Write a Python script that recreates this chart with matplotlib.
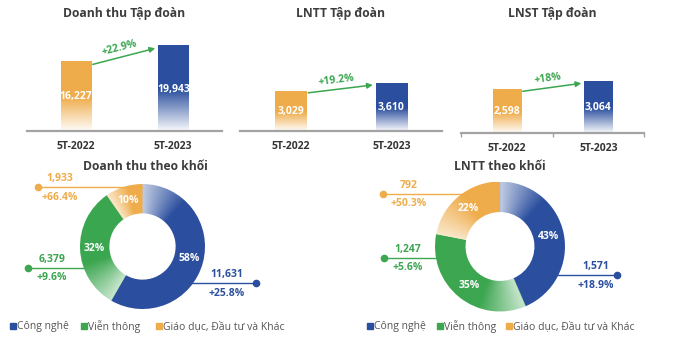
import numpy as np
import matplotlib
matplotlib.use("Agg")
import matplotlib.pyplot as plt
from matplotlib.colors import to_rgb

plt.rcParams['font.family'] = ['Open Sans', 'DejaVu Sans']

# group totals (ty dong)
periods = ["5T-2022", "5T-2023"]
rev_group = [16227, 19943]
pbt_group = [3029, 3610]
pat_group = [2598, 3064]
group_growth = ["+22.9%", "+19.2%", "+18%"]

# by business segment, 5T-2023
segments = ["Công nghệ", "Viễn thông", "Giáo dục, Đầu tư và Khác"]
rev_seg = [11631, 6379, 1933]
rev_seg_pct = ["58%", "32%", "10%"]
rev_seg_growth = ["+25.8%", "+9.6%", "+66.4%"]
pbt_seg = [1571, 1247, 792]
pbt_seg_pct = ["43%", "35%", "22%"]
pbt_seg_growth = ["+18.9%", "+5.6%", "+50.3%"]

BLUE = "#2b4f9e"
GREEN = "#3ca650"
ORANGE = "#efac4a"
TITLE = "#3d3d3d"
seg_colors = [BLUE, GREEN, ORANGE]

W, H = 697, 340
fig = plt.figure(figsize=(W / 100, H / 100), dpi=100)
fig.patch.set_facecolor("white")


def px_axes(x0, y0, x1, y1):
    return fig.add_axes([x0 / W, 1 - y1 / H, (x1 - x0) / W, (y1 - y0) / H])


def bar_gradient(color):
    t = np.linspace(0, 1, 200)[:, None]
    m = np.clip(0.03 + t / 0.5, 0, 1)
    c = np.array(to_rgb(color))
    img = (1 - m[..., None]) * 1.0 + m[..., None] * c
    return img


def bar_panel(box, values, growth, ymax, ticks=False):
    ax = px_axes(*box)
    w = 0.31
    bars = ax.bar([0, 1], values, width=w, color="none", edgecolor="none")
    for b, c in zip(bars, [ORANGE, BLUE]):
        x0, bw, bh = b.get_x(), b.get_width(), b.get_height()
        ax.imshow(bar_gradient(c), extent=(x0, x0 + bw, 0, bh), origin="lower",
                  aspect="auto", zorder=2)
        ax.text(x0 + bw / 2, bh * 0.49, f"{bh:,.0f}", color="white", fontsize=7.5,
                fontweight="bold", ha="center", va="center", zorder=3)
    ax.set_xlim(-0.5, 1.5)
    ax.set_ylim(0, ymax)
    for s in ["top", "left", "right"]:
        ax.spines[s].set_visible(False)
    ax.spines["bottom"].set_color("#a3a3a3")
    ax.spines["bottom"].set_linewidth(1.6)
    ax.set_yticks([])
    ax.set_xticks([0, 1])
    ax.set_xticklabels(periods, fontsize=7.5, fontweight="bold", color="#333333")
    ax.tick_params(axis="x", length=0, pad=7)
    if ticks:
        ax.set_xticks([-0.5, 0.5, 1.5], minor=True)
        ax.tick_params(axis="x", which="minor", length=3, width=1, color="#a3a3a3")

    # growth arrow between the two bars
    p0 = (w / 2 + 0.02, values[0] * 0.955)
    p1 = (1 - w / 2 - 0.03, values[1] * 0.965)
    ax.annotate("", xy=p1, xytext=p0,
                arrowprops=dict(arrowstyle="-|>", color=GREEN, lw=1.1,
                                mutation_scale=8, shrinkA=0, shrinkB=0))
    d0, d1 = ax.transData.transform([p0, p1])
    ang = np.degrees(np.arctan2(d1[1] - d0[1], d1[0] - d0[0]))
    mid = ((p0[0] + p1[0]) / 2, (p0[1] + p1[1]) / 2)
    ax.annotate(growth, xy=mid, xytext=(-3, 6), textcoords="offset points",
                rotation=ang, rotation_mode="anchor", ha="center", va="center",
                color=GREEN, fontsize=7.5, fontweight="bold")
    return ax


bar_panel((27, 30, 222, 131), rev_group, group_growth[0], 23500)
bar_panel((240, 30, 442, 131), pbt_group, group_growth[1], 7650)
bar_panel((461, 33, 644, 133), pat_group, group_growth[2], 5950, ticks=True)


def donut(cx, cy, R, box, values, pct):
    x0, y0, x1, y1 = box
    ax = px_axes(*box)
    wedges, _ = ax.pie(values, startangle=90, counterclock=False, radius=1,
                       colors=["none"] * len(values),
                       wedgeprops=dict(width=0.47, edgecolor="white", linewidth=0.6))
    yy, xx = np.mgrid[-1:1:500j, -1:1:500j]
    ang = np.degrees(np.arctan2(yy, xx))
    for wdg, c, p in zip(wedges, seg_colors, pct):
        span = wdg.theta2 - wdg.theta1
        d = (wdg.theta2 - ang) % 360
        fade = min(60, span * 0.85)
        m = np.clip(0.28 + d / fade, 0, 1)[..., None]
        img = (1 - m) + m * np.array(to_rgb(c))
        im = ax.imshow(img, extent=(-1, 1, -1, 1), origin="lower", zorder=1)
        im.set_clip_path(wdg)
        mid = np.radians((wdg.theta1 + wdg.theta2) / 2)
        ax.text(0.765 * np.cos(mid), 0.765 * np.sin(mid), p, color="white",
                fontsize=7.5, fontweight="bold", ha="center", va="center", zorder=3)
    ax.set_aspect("auto")
    ax.set_xlim((x0 - cx) / R, (x1 - cx) / R)
    ax.set_ylim((cy - y1) / R, (cy - y0) / R)
    ax.axis("off")
    return ax


donut(142.5, 246.5, 62.5, (80, 180, 210, 312), rev_seg, rev_seg_pct)
donut(500, 246.5, 65, (430, 180, 570, 314), pbt_seg, pbt_seg_pct)

# overlay in pixel coordinates for titles, callouts and legends
ov = fig.add_axes([0, 0, 1, 1])
ov.set_xlim(0, W)
ov.set_ylim(H, 0)
ov.axis("off")
ov.patch.set_alpha(0)

titles = [(124.5, 13, "Doanh thu Tập đoàn"), (341, 13, "LNTT Tập đoàn"),
          (552, 13, "LNST Tập đoàn"), (145, 167, "Doanh thu theo khối"),
          (499.5, 167, "LNTT theo khối")]
for tx, ty, t in titles:
    ov.text(tx, ty, t, fontsize=8.7, fontweight="bold", color=TITLE,
            ha="center", va="center")

# callouts: (dot x, line y, line end x, text x)
rev_callouts = [(256, 283, 192, 227), (28, 268, 84, 52), (38, 187, 142, 60)]
pbt_callouts = [(617, 275, 558, 596), (384, 258, 436, 408), (383, 194, 461, 409)]
for callouts, vals, growth in [(rev_callouts, rev_seg, rev_seg_growth),
                               (pbt_callouts, pbt_seg, pbt_seg_growth)]:
    for (dx, ly, ex, tx), v, g, c in zip(callouts, vals, growth, seg_colors):
        ov.plot([dx, ex], [ly, ly], color=c, lw=1.0, zorder=4)
        ov.plot(dx, ly, "o", color=c, ms=4.5, zorder=5)
        ov.text(tx, ly - 8.5, f"{v:,}", color=c, fontsize=7.5, fontweight="bold",
                ha="center", va="center")
        ov.text(tx, ly + 10, g, color=c, fontsize=7.5, fontweight="bold",
                ha="center", va="center")

# legends
for marks in [(13, 84, 159), (370, 440, 509)]:
    for mx, name, c in zip(marks, segments, seg_colors):
        ov.plot(mx, 326, "s", color=c, ms=4, zorder=5)
        ov.text(mx + 4, 326.5, name, fontsize=7.5, color="#555555", ha="left", va="center")

fig.savefig("out.png", dpi=100, facecolor="white")
